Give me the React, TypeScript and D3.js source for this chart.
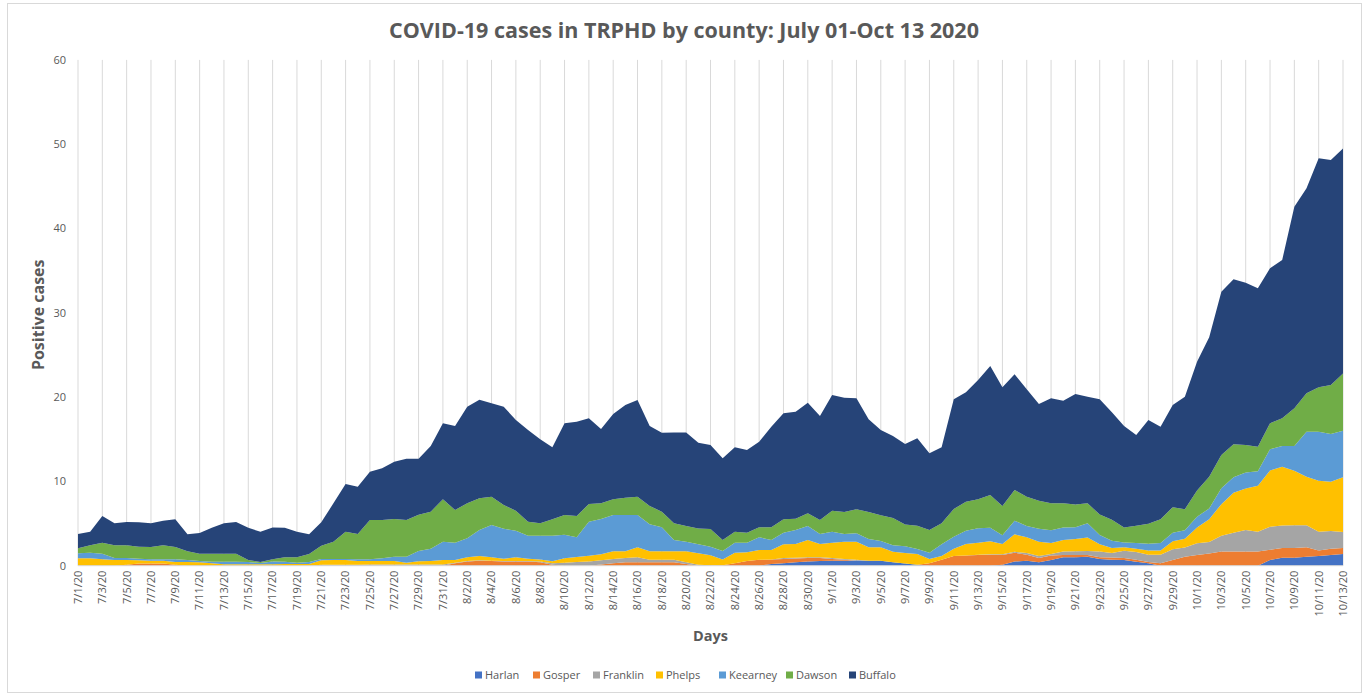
import React from "react";
import * as d3 from "d3";

// county series, bottom of the stack first
const seriesNames = ["Harlan", "Gosper", "Franklin", "Phelps", "Keearney", "Dawson", "Buffalo"];
const seriesColors = ["#4472C4", "#ED7D31", "#A5A5A5", "#FFC000", "#5B9BD5", "#70AD47", "#264478"];

const harlan = [
  0, 0, 0, 0, 0, 0, 0, 0, 0, 0,
  0, 0, 0, 0, 0, 0, 0, 0, 0, 0,
  0, 0, 0, 0, 0, 0, 0, 0, 0, 0,
  0, 0, 0, 0, 0, 0, 0, 0, 0, 0,
  0, 0, 0, 0, 0, 0, 0, 0, 0, 0,
  0, 0, 0, 0, 0, 0, 0, 0.2, 0.3, 0.4,
  0.5, 0.55, 0.6, 0.6, 0.6, 0.6, 0.6, 0.4, 0.25, 0.1,
  0, 0, 0, 0, 0, 0, 0.1, 0.5, 0.6, 0.4,
  0.68, 1.0, 1.0, 1.07, 0.8, 0.72, 0.68, 0.47, 0.28, 0,
  0, 0, 0, 0, 0, 0, 0, 0, 0.68, 0.95,
  0.95, 1.07, 1.15, 1.27, 1.4
];
const gosper = [
  0, 0, 0, 0, 0.1, 0.25, 0.25, 0.25, 0.1, 0,
  0, 0, 0, 0, 0, 0, 0, 0, 0, 0,
  0, 0, 0, 0, 0, 0, 0, 0, 0, 0,
  0, 0.3, 0.5, 0.6, 0.55, 0.5, 0.5, 0.5, 0.4, 0.1,
  0, 0, 0, 0.15, 0.3, 0.4, 0.4, 0.4, 0.4, 0.4,
  0.2, 0, 0, 0.05, 0.3, 0.55, 0.7, 0.55, 0.5, 0.45,
  0.4, 0.35, 0.2, 0.1, 0, 0, 0, 0, 0, 0,
  0.3, 0.7, 1.15, 1.2, 1.27, 1.3, 1.17, 1.05, 0.7, 0.5,
  0.52, 0.27, 0.27, 0.2, 0.2, 0.25, 0.22, 0.23, 0.17, 0.3,
  0.68, 1.07, 1.27, 1.45, 1.67, 1.67, 1.67, 1.67, 1.2, 1.15,
  1.15, 1.13, 0.65, 0.73, 0.7
];
const franklin = [
  0, 0, 0, 0, 0, 0, 0, 0, 0, 0,
  0, 0, 0, 0, 0, 0, 0, 0, 0, 0,
  0.1, 0.1, 0.1, 0.1, 0.15, 0.15, 0.15, 0.15, 0.15, 0.15,
  0.15, 0.05, 0.05, 0.05, 0.05, 0.05, 0.05, 0.05, 0.1, 0.2,
  0.35, 0.45, 0.5, 0.5, 0.5, 0.5, 0.6, 0.3, 0.3, 0.3,
  0.2, 0.1, 0.05, 0, 0, 0, 0, 0, 0.1, 0.1,
  0.1, 0.1, 0.1, 0.1, 0.1, 0, 0, 0, 0, 0,
  0, 0, 0, 0, 0.03, 0.05, 0.08, 0.1, 0.2, 0.25,
  0.2, 0.4, 0.43, 0.47, 0.67, 0.53, 0.86, 0.94, 0.86, 1.01,
  1.28, 1.09, 1.38, 1.36, 1.87, 2.23, 2.56, 2.35, 2.75, 2.68,
  2.71, 2.61, 2.24, 2.13, 1.9
];
const phelps = [
  0.87, 0.87, 0.76, 0.68, 0.58, 0.39, 0.35, 0.35, 0.34, 0.44,
  0.4, 0.28, 0.16, 0.16, 0.16, 0.16, 0.18, 0.2, 0.2, 0.2,
  0.54, 0.58, 0.58, 0.46, 0.41, 0.41, 0.41, 0.21, 0.37, 0.41,
  0.53, 0.33, 0.44, 0.5, 0.39, 0.28, 0.44, 0.28, 0.25, 0.22,
  0.52, 0.58, 0.69, 0.7, 0.9, 0.8, 1.18, 1.0, 1.0, 1.0,
  1.3, 1.37, 1.18, 0.7, 1.25, 1.04, 1.16, 1.11, 1.64, 1.63,
  2.05, 1.58, 1.83, 2.05, 2.15, 1.58, 1.58, 1.26, 1.25, 1.29,
  0.49, 0.45, 0.87, 1.37, 1.43, 1.54, 1.22, 2.07, 1.87, 1.7,
  1.3, 1.38, 1.47, 1.61, 0.88, 0.6, 0.44, 0.36, 0.49, 0.49,
  0.94, 1.04, 1.88, 2.71, 3.76, 4.75, 4.92, 5.45, 6.67, 6.96,
  6.46, 5.75, 6.04, 5.83, 6.5
];
const keearney = [
  0.6, 0.68, 0.67, 0.23, 0.23, 0.19, 0.16, 0.16, 0.32, 0.24,
  0.16, 0.2, 0.32, 0.32, 0.28, 0.16, 0.32, 0.27, 0.16, 0.24,
  0.15, 0.11, 0.11, 0.2, 0.2, 0.31, 0.51, 0.71, 1.22, 1.46,
  2.17, 2.05, 2.26, 3.08, 3.84, 3.56, 3.16, 2.73, 2.81, 3.04,
  2.81, 2.34, 4.03, 4.19, 4.31, 4.31, 3.83, 3.21, 2.85, 1.35,
  1.15, 1.08, 1.03, 0.99, 1.18, 1.14, 1.51, 1.19, 1.37, 1.65,
  1.66, 1.18, 1.3, 0.91, 0.99, 0.98, 0.75, 0.76, 0.8, 0.59,
  0.76, 1.39, 1.42, 1.58, 1.7, 1.62, 1.03, 1.62, 1.34, 1.54,
  1.5, 1.48, 1.38, 1.68, 1.09, 0.85, 0.55, 0.7, 0.8, 0.9,
  1.0, 1.0, 1.27, 1.28, 1.9, 1.85, 1.9, 1.73, 2.51, 2.46,
  2.93, 5.34, 5.82, 5.66, 5.5
];
const dawson = [
  0.59, 0.87, 1.3, 1.51, 1.51, 1.43, 1.46, 1.66, 1.46, 1.02,
  0.87, 0.95, 0.95, 0.95, 0.24, 0.12, 0.28, 0.52, 0.63, 0.95,
  1.58, 2.06, 3.24, 3.0, 4.66, 4.55, 4.47, 4.35, 4.31, 4.39,
  5.03, 3.88, 4.15, 3.77, 3.36, 2.81, 2.37, 1.66, 1.47, 1.94,
  2.33, 2.53, 2.1, 1.86, 1.87, 2.06, 2.18, 2.17, 1.86, 1.98,
  1.86, 1.85, 2.09, 1.31, 1.3, 1.18, 1.18, 1.5, 1.59, 1.35,
  1.5, 1.66, 2.49, 2.61, 2.85, 3.21, 3.05, 3.24, 2.6, 2.77,
  2.68, 2.49, 3.29, 3.44, 3.45, 3.88, 3.48, 3.64, 3.48, 3.32,
  3.2, 2.87, 2.71, 2.37, 2.43, 2.51, 1.78, 2.03, 2.37, 2.82,
  3.04, 2.5, 3.12, 3.76, 3.93, 3.9, 3.27, 2.92, 3.08, 3.28,
  4.47, 4.55, 5.26, 5.82, 6.8
];
const buffalo = [
  1.7, 1.61, 3.17, 2.61, 2.76, 2.89, 2.81, 2.92, 3.28, 2.02,
  2.45, 3.07, 3.6, 3.75, 3.82, 3.59, 3.74, 3.51, 3.04, 2.33,
  2.78, 4.55, 5.66, 5.61, 5.73, 6.13, 6.8, 7.27, 6.64, 7.79,
  9.01, 9.96, 11.46, 11.7, 11.07, 11.66, 10.76, 10.88, 9.96, 8.54,
  10.88, 11.18, 10.16, 8.82, 10.12, 10.99, 11.47, 9.49, 9.37, 10.77,
  11.09, 10.19, 9.97, 9.69, 10.01, 9.81, 10.16, 11.94, 12.58, 12.69,
  13.13, 12.34, 13.73, 13.56, 13.17, 11.0, 10.12, 9.73, 9.54, 10.36,
  9.1, 9.01, 13.01, 12.98, 14.15, 15.3, 14.08, 13.72, 12.73, 11.47,
  12.46, 12.17, 13.11, 12.65, 13.67, 12.74, 12.04, 10.77, 12.31, 10.97,
  12.12, 13.35, 15.28, 16.53, 19.37, 19.57, 19.25, 18.78, 18.39, 18.78,
  23.92, 24.32, 27.17, 26.69, 26.7
];
const seriesValues = [harlan, gosper, franklin, phelps, keearney, dawson, buffalo];

const yTicks = [0, 10, 20, 30, 40, 50, 60];
const firstDay = new Date(2020, 6, 1);
const lastDay = new Date(2020, 9, 13);
const days = d3.timeDay.range(firstDay, d3.timeDay.offset(lastDay, 1));
const dayLabel = d3.timeFormat("%-m/%-d/%y");

const titleText = "COVID-19 cases in TRPHD by county: July 01-Oct 13 2020";

// layout
const W = 1369;
const H = 696;
const plotLeft = 78;
const plotRight = 1343;
const plotBottom = 565.7;
const plotTop = 59.9;
const legendX = [475, 533, 593, 656, 719, 786, 849];
const textColor = "#595959";
const gridColor = "#D9D9D9";
const font = "'Open Sans', 'Liberation Sans', sans-serif";

const App = () => {
  const rows = days.map((d, i) => {
    const row: any = { day: d };
    seriesNames.forEach((name, k) => {
      row[name] = seriesValues[k][i];
    });
    return row;
  });

  const stacked = d3.stack<any>().keys(seriesNames)(rows);

  const x = d3.scaleLinear().domain([0, days.length - 1]).range([plotLeft, plotRight]);
  const y = d3.scaleLinear().domain([0, 60]).range([plotBottom, plotTop]);

  const area = d3
    .area<any>()
    .x((d, i) => x(i))
    .y0((d) => y(d[0]))
    .y1((d) => y(d[1]));

  // labels and gridlines every other day
  const tickDays = days.map((d, i) => i).filter((i) => i % 2 === 0);

  return (
    <svg
      width={W}
      height={H}
      style={{ position: "absolute", left: 0, top: 0, background: "#fff" }}
      fontFamily={font}
    >
      <rect x={7.5} y={3.5} width={1354} height={689} fill="#fff" stroke={gridColor} />

      <text x={684} y={38} textAnchor="middle" fontSize={21.5} fontWeight="bold" fill={textColor}>
        {titleText}
      </text>

      {/* vertical gridlines */}
      <g>
        {tickDays.map((i) => (
          <line
            key={i}
            x1={x(i)}
            x2={x(i)}
            y1={y(60)}
            y2={plotBottom}
            stroke={gridColor}
            strokeWidth={1}
          />
        ))}
      </g>

      {/* stacked areas */}
      <g>
        {stacked.map((s, k) => (
          <path key={s.key} d={area(s) || ""} fill={seriesColors[k]} />
        ))}
      </g>

      <line x1={plotLeft} x2={plotRight} y1={plotBottom} y2={plotBottom} stroke={gridColor} />

      {/* y axis labels */}
      <g>
        {yTicks.map((t) => (
          <text key={t} x={66} y={y(t)} dy="0.35em" textAnchor="end" fontSize={11} fill={textColor}>
            {t}
          </text>
        ))}
      </g>

      {/* x axis labels */}
      <g>
        {tickDays.map((i) => (
          <text
            key={i}
            transform={`translate(${x(i)},${plotBottom + 5}) rotate(-90)`}
            dy="0.35em"
            textAnchor="end"
            fontSize={11}
            fill={textColor}
          >
            {dayLabel(days[i])}
          </text>
        ))}
      </g>

      <text
        transform={`translate(38,${(plotTop + plotBottom) / 2 + 2}) rotate(-90)`}
        textAnchor="middle"
        dy="0.35em"
        fontSize={16}
        fontWeight="bold"
        fill={textColor}
      >
        Positive cases
      </text>
      <text
        x={(plotLeft + plotRight) / 2}
        y={636}
        textAnchor="middle"
        dy="0.35em"
        fontSize={14.5}
        fontWeight="bold"
        fill={textColor}
      >
        Days
      </text>

      {/* legend */}
      <g>
        {seriesNames.map((name, k) => (
          <g key={name} transform={`translate(${legendX[k]},675)`}>
            <rect x={0} y={-3.5} width={7} height={7} fill={seriesColors[k]} />
            <text x={10} dy="0.35em" fontSize={11} fill={textColor}>
              {name}
            </text>
          </g>
        ))}
      </g>
    </svg>
  );
};

export default App;
